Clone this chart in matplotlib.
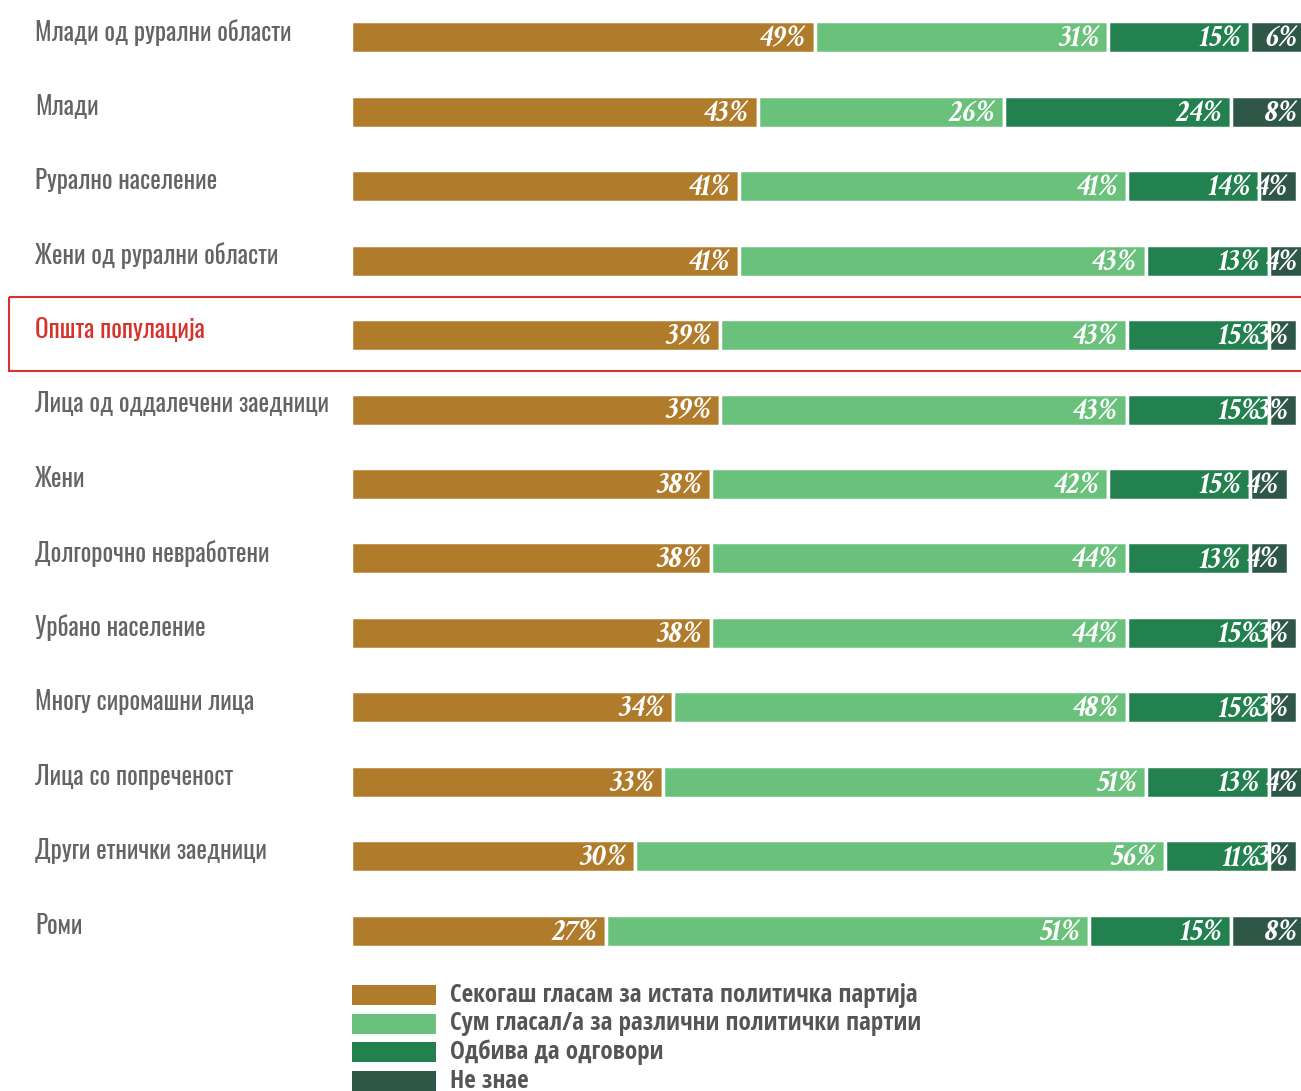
import matplotlib
matplotlib.use("Agg")
import matplotlib.pyplot as plt
import matplotlib.patches as mpatches
from matplotlib.transforms import blended_transform_factory
import numpy as np

categories = [
    "Млади од рурални области",
    "Млади",
    "Рурално население",
    "Жени од рурални области",
    "Општа популација",
    "Лица од оддалечени заедници",
    "Жени",
    "Долгорочно невработени",
    "Урбано население",
    "Многу сиромашни лица",
    "Лица со попреченост",
    "Други етнички заедници",
    "Роми",
]
always_same = [49, 43, 41, 41, 39, 39, 38, 38, 38, 34, 33, 30, 27]
different = [31, 26, 41, 43, 43, 43, 42, 44, 44, 48, 51, 56, 51]
refuses = [15, 24, 14, 13, 15, 15, 15, 13, 15, 15, 13, 11, 15]
dont_know = [6, 8, 4, 4, 3, 3, 4, 4, 3, 3, 4, 3, 8]

series = [always_same, different, refuses, dont_know]
series_names = [
    "Секогаш гласам за истата политичка партија",
    "Сум гласал/а за различни политички партии",
    "Одбива да одговори",
    "Не знае",
]
colors = ["#B07B2B", "#69C17B", "#23804F", "#2F5748"]
highlight = "Општа популација"

cond = ["Oswald", "DejaVu Sans"]
cond_bold = ["Open Sans Condensed", "Oswald", "DejaVu Sans"]
serif_it = ["Crimson Text", "Liberation Serif"]

fig = plt.figure(figsize=(13.01, 10.91), dpi=100)
ax = fig.add_axes([351 / 1301, 1 - 968 / 1091, 1 - 351 / 1301, 968 / 1091])

y = np.arange(len(categories))
left = np.zeros(len(categories))
for vals, col in zip(series, colors):
    vals = np.array(vals, dtype=float)
    ax.barh(y, vals, left=left, height=0.43, color=col,
            edgecolor="white", linewidth=2.5)
    for yi, l, v in zip(y, left, vals):
        ax.text(l + v - 0.9, yi + 0.02, f"{int(v)}%", ha="right", va="center",
                color="white", fontsize=22, fontstyle="italic",
                fontweight="bold", family=serif_it, clip_on=True)
    left += vals

ax.set_xlim(0, 100.4)
ax.set_ylim(len(categories) - 0.5, -0.5)
ax.axis("off")

trans = blended_transform_factory(fig.transFigure, ax.transData)
for yi, cat in zip(y, categories):
    col = "#D6332C" if cat == highlight else "#646464"
    ax.text(35 / 1301, yi - 0.07, cat, transform=trans, ha="left", va="center",
            fontsize=18, color=col, family=cond)
    if cat == highlight:
        rect = mpatches.Rectangle((9 / 1301, yi - 0.51), 1.0, 0.99,
                                  transform=trans, fill=False,
                                  edgecolor="#D6332C", linewidth=1.5,
                                  clip_on=False)
        ax.add_patch(rect)

# legend drawn by hand
for i, (name, col) in enumerate(zip(series_names, colors)):
    yc = 1 - (995 + i * 28.7) / 1091
    fig.patches.append(mpatches.Rectangle((352 / 1301, yc - 10 / 1091),
                                          84 / 1301, 20 / 1091,
                                          transform=fig.transFigure,
                                          facecolor=col, edgecolor="none"))
    fig.text(450 / 1301, yc, name, ha="left", va="center", fontsize=18,
             fontweight="bold", color="#555555", family=cond_bold)

fig.savefig("out.png", dpi=100)
